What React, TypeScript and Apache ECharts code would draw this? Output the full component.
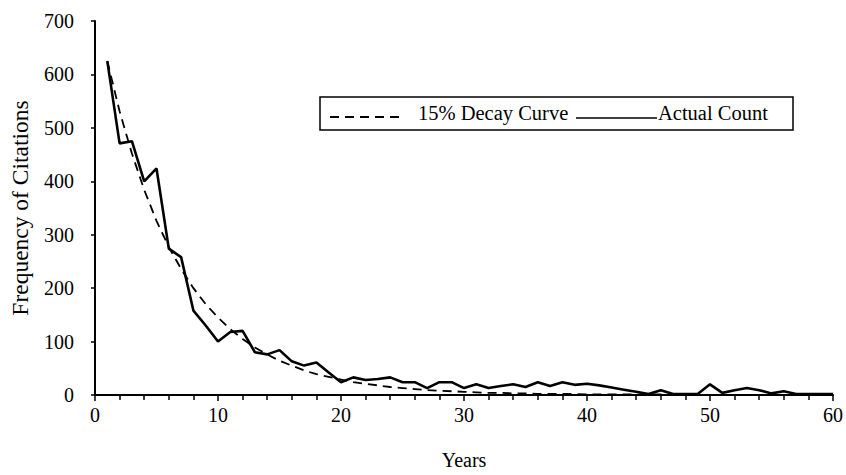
import React, { useEffect, useRef } from "react";
import * as echarts from "echarts";

const years: number[] = Array.from({ length: 60 }, (_, i) => i + 1);

const actualCount: number[] = [
  625, 471, 475, 400, 424, 274, 258, 158, 130, 100,
  118, 120, 80, 76, 84, 63, 55, 61, 42, 24,
  33, 28, 30, 33, 24, 24, 13, 24, 24, 13,
  20, 13, 17, 20, 15, 24, 17, 24, 19, 21,
  18, 14, 10, 6, 2, 9, 2, 2, 2, 20,
  4, 9, 13, 9, 3, 7, 2, 2, 2, 2,
];

const decayCurve: number[] = [
  625, 531, 452, 384, 326, 277, 236, 200, 170, 145,
  123, 105, 89, 76, 64, 55, 46, 39, 34, 29,
  24, 21, 18, 15, 13, 11, 9, 8, 7, 6,
  5, 4, 4, 3, 3, 2, 2, 2, 2, 1,
  1, 1, 1, 1, 1, 1, 0, 0, 0, 0,
  0, 0, 0, 0, 0, 0, 0, 0, 0, 0,
];

const legendNames = ["15% Decay Curve", "Actual Count"];
const xAxisTitle = "Years";
const yAxisTitle = "Frequency of Citations";

const FONT = "'Liberation Serif', 'DejaVu Serif', serif";

export default function App() {
  const ref = useRef<HTMLDivElement>(null);
  useEffect(() => {
    if (!ref.current) return;
    const chart = echarts.init(ref.current, undefined, { renderer: "svg" });
    chart.setOption({
      animation: false,
      backgroundColor: "#ffffff",
      grid: { left: 89, right: 11, top: 21, bottom: 72 },
      xAxis: {
        type: "value",
        min: 0,
        max: 60,
        interval: 10,
        name: xAxisTitle,
        nameLocation: "middle",
        nameGap: 55,
        nameTextStyle: { fontFamily: FONT, fontSize: 20, color: "#000" },
        axisLine: { show: true, lineStyle: { color: "#000", width: 2 } },
        axisTick: { show: true, inside: false, length: 6, lineStyle: { color: "#000", width: 1.5 } },
        minorTick: { show: true, splitNumber: 5, length: 5, lineStyle: { color: "#000", width: 1.5 } },
        axisLabel: { fontFamily: FONT, fontSize: 20, color: "#000", margin: 10 },
        splitLine: { show: false },
      },
      yAxis: {
        type: "value",
        min: 0,
        max: 700,
        interval: 100,
        name: yAxisTitle,
        nameLocation: "middle",
        nameGap: 63,
        nameTextStyle: { fontFamily: FONT, fontSize: 23.5, color: "#000" },
        axisLine: { show: true, lineStyle: { color: "#000", width: 2 } },
        axisTick: { show: true, inside: false, length: 4, lineStyle: { color: "#000", width: 1.5 } },
        axisLabel: { fontFamily: FONT, fontSize: 20, color: "#000", margin: 21 },
        splitLine: { show: false },
      },
      series: [
        {
          name: legendNames[0],
          type: "line",
          data: years.map((y, i) => [y, decayCurve[i]]),
          showSymbol: false,
          symbol: "none",
          lineStyle: { color: "#000", width: 1.8, type: [9, 6] },
          z: 2,
        },
        {
          name: legendNames[1],
          type: "line",
          data: years.map((y, i) => [y, actualCount[i]]),
          showSymbol: false,
          symbol: "none",
          lineStyle: { color: "#000", width: 2.6 },
          z: 3,
        },
      ],
      graphic: [
        {
          type: "group",
          children: [
            {
              type: "rect",
              shape: { x: 320, y: 97, width: 473, height: 33 },
              style: { fill: "#fff", stroke: "#000", lineWidth: 1.5 },
            },
            {
              type: "line",
              shape: { x1: 330, y1: 117, x2: 403, y2: 117 },
              style: { stroke: "#000", lineWidth: 1.8, lineDash: [9, 6] },
            },
            {
              type: "text",
              x: 418,
              y: 113,
              style: {
                text: legendNames[0],
                fontFamily: FONT,
                fontSize: 20.5,
                fill: "#000",
                verticalAlign: "middle",
                align: "left",
              },
            },
            {
              type: "line",
              shape: { x1: 576, y1: 118, x2: 657, y2: 118 },
              style: { stroke: "#000", lineWidth: 1.5 },
            },
            {
              type: "text",
              x: 658,
              y: 113,
              style: {
                text: legendNames[1],
                fontFamily: FONT,
                fontSize: 20.5,
                fill: "#000",
                verticalAlign: "middle",
                align: "left",
              },
            },
          ],
        },
      ],
    });
    return () => chart.dispose();
  }, []);
  return (
    <div
      ref={ref}
      style={{ position: "fixed", left: 0, top: 0, width: 846, height: 475 }}
    />
  );
}
